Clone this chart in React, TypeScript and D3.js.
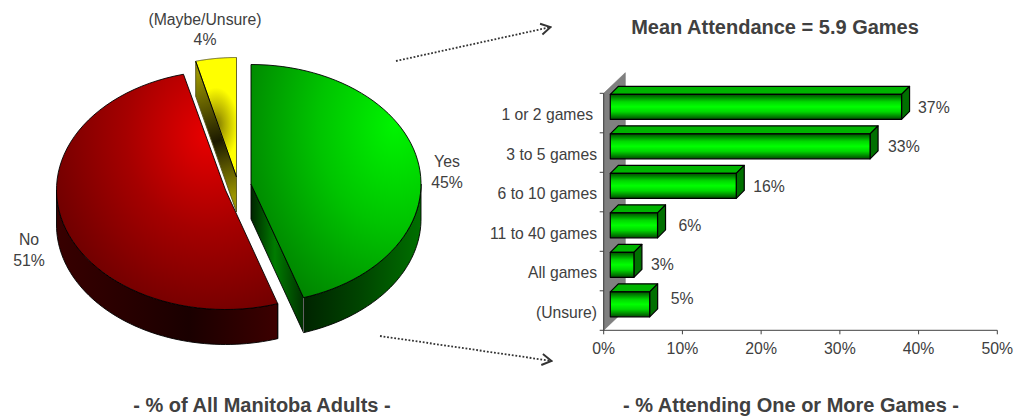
import React from "react";
import * as d3 from "d3";

// ---- data ----
const pieCategories = ["Yes", "No", "(Maybe/Unsure)"];
const pieValues = [45, 51, 4];
const barCategories = ["1 or 2 games", "3 to 5 games", "6 to 10 games", "11 to 40 games", "All games", "(Unsure)"];
const barValues = [37, 33, 16, 6, 3, 5];
const barLabels = ["37%", "33%", "16%", "6%", "3%", "5%"];
const xTicks = [0, 10, 20, 30, 40, 50];

// ---- style / layout ----
const FONT = "'Liberation Sans', Arial, sans-serif";
const TXT = "#404040";
const RY = 119.5, DEPTH = 35;
const centers = [
  { x: 251, y: 184, rx: 170 },
  { x: 225.5, y: 190, rx: 169 },
  { x: 236.5, y: 177, rx: 164 },
];
type C = { x: number; y: number; rx: number };
const topFill = ["url(#gTop)", "url(#rTop)", "url(#yTop)"];

const x = d3.scaleLinear().domain([0, 50]).range([603.7, 997.3]);
const y = d3.scaleBand<string>().domain(barCategories).range([93.3, 330.3]);
const BAR_H = 25, OFF = 6.6, D = 8;

const arcs = d3.pie<number>().sort(null).value((d) => d)(pieValues);
const pt = (c: C, a: number, dy = 0): [number, number] => [
  c.x + c.rx * Math.sin(a),
  c.y - RY * Math.cos(a) + dy,
];
const sweep = (c: C, a0: number, a1: number, dy = 0) =>
  d3.range(0, 61).map((i) => pt(c, a0 + ((a1 - a0) * i) / 60, dy));
const line = d3.line();

function Wedge({ i, stroke }: { i: number; stroke: string }) {
  const a = arcs[i];
  const c = centers[i];
  const d = line([[c.x, c.y], ...sweep(c, a.startAngle, a.endAngle)])! + "Z";
  return <path d={d} fill={topFill[i]} stroke={stroke} strokeWidth={0.9} strokeLinejoin="round" />;
}

function Bar({ cat, v }: { cat: string; v: number }) {
  const x0 = x(0) + OFF;
  const x1 = x(v) + OFF;
  const t = y(cat)! + 1;
  const b = t + BAR_H;
  return (
    <g stroke="#000" strokeWidth={1.2} strokeLinejoin="round">
      <path d={`M${x0},${t}L${x0 + D},${t - D}L${x1 + D},${t - D}L${x1},${t}Z`} fill="#00b400" />
      <path d={`M${x1},${t}L${x1 + D},${t - D}L${x1 + D},${b - D}L${x1},${b}Z`} fill="#007000" />
      <rect x={x0} y={t} width={x1 - x0} height={BAR_H} fill="url(#barFront)" />
    </g>
  );
}

export default function App() {
  const yes = arcs[0], no = arcs[1], mb = arcs[2];
  const gc = centers[0], rc = centers[1], yc = centers[2];
  const rightA = Math.PI / 2;
  const leftA = (3 * Math.PI) / 2;
  const gWall = [...sweep(gc, rightA, yes.endAngle), ...sweep(gc, rightA, yes.endAngle, DEPTH).reverse()];
  const rWall = [...sweep(rc, no.startAngle, leftA), ...sweep(rc, no.startAngle, leftA, DEPTH).reverse()];
  const gEnd = pt(gc, yes.endAngle);
  const yStart = pt(yc, mb.startAngle);
  const rStart = pt(rc, no.startAngle);
  return (
    <svg width={1014} height={416} style={{ position: "absolute", left: 0, top: 0, background: "#fff" }} fontFamily={FONT}>
      <defs>
        <radialGradient id="gTop" gradientUnits="userSpaceOnUse" cx={395} cy={125} r={170} gradientTransform="translate(395 125) scale(1 1.3) translate(-395 -125)">
          <stop offset="0" stopColor="#00f400" />
          <stop offset="0.45" stopColor="#00c400" />
          <stop offset="1" stopColor="#007c00" />
        </radialGradient>
        <radialGradient id="rTop" gradientUnits="userSpaceOnUse" cx={208} cy={135} r={165} gradientTransform="translate(208 135) scale(1 1.15) translate(-208 -135)">
          <stop offset="0" stopColor="#e80000" />
          <stop offset="0.5" stopColor="#a50000" />
          <stop offset="1" stopColor="#700000" />
        </radialGradient>
        <radialGradient id="yTop" gradientUnits="userSpaceOnUse" cx={216} cy={125} r={30} gradientTransform="translate(216 125) scale(0.75 1.25) translate(-216 -125)">
          <stop offset="0" stopColor="#787200" />
          <stop offset="0.4" stopColor="#b4ae00" />
          <stop offset="1" stopColor="#ffff00" />
        </radialGradient>
        <linearGradient id="yWall" gradientUnits="userSpaceOnUse" x1={196} y1={75} x2={236} y2={195}>
          <stop offset="0" stopColor="#9a9400" />
          <stop offset="0.55" stopColor="#1c1a00" />
          <stop offset="1" stopColor="#9a9400" />
        </linearGradient>
        <linearGradient id="gSide" gradientUnits="userSpaceOnUse" x1={251} y1={0} x2={304} y2={0}>
          <stop offset="0" stopColor="#002400" />
          <stop offset="0.45" stopColor="#007c00" />
          <stop offset="1" stopColor="#003000" />
        </linearGradient>
        <linearGradient id="gWall" gradientUnits="userSpaceOnUse" x1={304} y1={0} x2={421} y2={0}>
          <stop offset="0" stopColor="#002400" />
          <stop offset="0.5" stopColor="#004600" />
          <stop offset="1" stopColor="#007000" />
        </linearGradient>
        <linearGradient id="rWall" gradientUnits="userSpaceOnUse" x1={56} y1={0} x2={277} y2={0}>
          <stop offset="0" stopColor="#380000" />
          <stop offset="0.6" stopColor="#1a0000" />
          <stop offset="1" stopColor="#3c0000" />
        </linearGradient>
        <linearGradient id="barFront" x1="0" y1="0" x2="0" y2="1">
          <stop offset="0" stopColor="#004c00" />
          <stop offset="0.3" stopColor="#00d800" />
          <stop offset="0.5" stopColor="#00ff00" />
          <stop offset="0.7" stopColor="#00d800" />
          <stop offset="1" stopColor="#004c00" />
        </linearGradient>
        <marker id="chev" viewBox="0 0 12 14" refX={11} refY={7} markerWidth={12} markerHeight={14} markerUnits="userSpaceOnUse" orient="auto">
          <path d="M1,1.5L10.5,7L1,12.5" fill="none" stroke="#333" strokeWidth={1.9} />
        </marker>
      </defs>

      {/* pie walls */}
      <path d={line(rWall)! + "Z"} fill="url(#rWall)" stroke="#000" strokeWidth={0.9} />
      <path d={line([gEnd, [gc.x, gc.y], [gc.x, gc.y + DEPTH], [gEnd[0], gEnd[1] + DEPTH]])! + "Z"} fill="url(#gSide)" stroke="#000" strokeWidth={0.9} />
      <path d={line(gWall)! + "Z"} fill="url(#gWall)" stroke="#000" strokeWidth={0.9} />
      <path d={line([gEnd, [gEnd[0], gEnd[1] + DEPTH]])!} stroke="#666" strokeWidth={1} />
      <path d={line([yStart, [yc.x, yc.y], [yc.x, yc.y + DEPTH], [yStart[0], yStart[1] + DEPTH]])! + "Z"} fill="url(#yWall)" stroke="#55531c" strokeWidth={0.9} />
      <path d={line([rStart, [rStart[0], rStart[1] + DEPTH]])!} stroke="#000" strokeWidth={0.9} />
      <Wedge i={2} stroke="#5a5820" />
      <path d={line([yStart, [yc.x, yc.y]])!} stroke="#000" strokeWidth={1} />
      <Wedge i={1} stroke="#000" />
      <Wedge i={0} stroke="#000" />

      {/* pie labels */}
      <g fontSize={15.8} fill={TXT} textAnchor="middle">
        <text x={447} y={167}>{pieCategories[0]}</text>
        <text x={447} y={188}>{pieValues[0]}%</text>
        <text x={29} y={245}>{pieCategories[1]}</text>
        <text x={29} y={266}>{pieValues[1]}%</text>
        <text x={205} y={24.5}>{pieCategories[2]}</text>
        <text x={205} y={45}>{pieValues[2]}%</text>
      </g>

      {/* connectors */}
      <line x1={396} y1={61} x2={551} y2={27} stroke="#333" strokeWidth={1.8} strokeDasharray="1.8 1.8" markerEnd="url(#chev)" />
      <line x1={380} y1={336} x2={552} y2={361} stroke="#333" strokeWidth={1.8} strokeDasharray="1.8 1.8" markerEnd="url(#chev)" />

      {/* bar chart wall */}
      <path d={`M${x(0)},${y.range()[1]}L${x(0) + 21.6},${y.range()[1] - 20.6}L${x(0) + 21.6},${y.range()[0] - 20.6}L${x(0)},${y.range()[0]}Z`} fill="#808080" stroke="#707070" strokeWidth={0.6} />
      {/* axes */}
      <g stroke="#404040" strokeWidth={1}>
        <line x1={x(0) - 4} x2={x(50)} y1={y.range()[1]} y2={y.range()[1]} />
        <line x1={x(0)} x2={x(0)} y1={y.range()[0]} y2={y.range()[1]} />
        {xTicks.map((t) => (
          <line key={t} x1={x(t)} x2={x(t)} y1={y.range()[1]} y2={y.range()[1] + 4} />
        ))}
        {barCategories.map((c) => (
          <line key={c} x1={x(0) - 4} x2={x(0)} y1={y(c)!} y2={y(c)!} />
        ))}
      </g>
      {xTicks.map((t) => (
        <text key={t} x={x(t)} y={353.5} fontSize={15.8} fill={TXT} textAnchor="middle">{t}%</text>
      ))}
      {barCategories.map((c, i) => (
        <text key={c} x={i === 0 ? 593 : 597} y={y(c)! + 26.7} fontSize={15.7} fill={TXT} textAnchor="end">{c}</text>
      ))}
      {barCategories.map((c, i) => (
        <Bar key={c} cat={c} v={barValues[i]} />
      ))}
      {barCategories.map((c, i) => {
        const gaps = [16.5, 18, 17, 21, 17, 21];
        const dys = [19.5, 19, 20, 19, 18.5, 13.5];
        return (
          <text key={c} x={x(barValues[i]) + OFF + gaps[i]} y={y(c)! + dys[i]} fontSize={15.8} fill={TXT}>{barLabels[i]}</text>
        );
      })}

      {/* titles */}
      <g fontSize={20} fontWeight="bold" fill={TXT} textAnchor="middle">
        <text x={775} y={34}>Mean Attendance = 5.9 Games</text>
        <text x={262} y={412}>- % of All Manitoba Adults -</text>
        <text x={791} y={412}>- % Attending One or More Games -</text>
      </g>
    </svg>
  );
}
